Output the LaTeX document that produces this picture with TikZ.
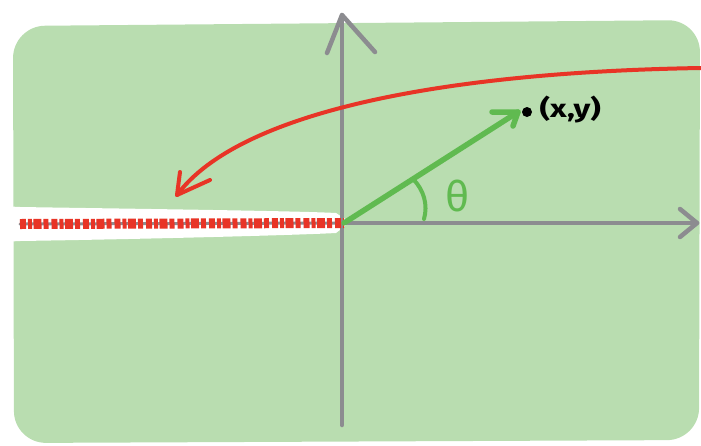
\documentclass[tikz,border=0pt]{standalone}
\usepackage{fontspec}
\setsansfont{Fira Sans}
\begin{document}
\begin{tikzpicture}[x=1pt,y=-1pt,line cap=round,line join=round]
\definecolor{bgreen}{RGB}{185,221,176}
\definecolor{vgreen}{RGB}{96,186,80}
\definecolor{cred}{RGB}{232,52,38}
\definecolor{axgray}{RGB}{140,140,144}
\tikzset{
  axis/.style={draw=axgray,line width=4.5pt},
  vec/.style={draw=vgreen,line width=5.5pt},
  redline/.style={draw=cred,line width=4pt}
}
\useasboundingbox (0,0) rectangle (701,445);
% green plane
\fill[bgreen,rounded corners=32pt] (13,26) -- (700,20) -- (699,440) -- (14,443) -- cycle;
% white branch-cut strip
\fill[white] (0,206) -- (20,207) .. controls (150,209) and (300,211) .. (336,213) -- (350,222) -- (336,233) .. controls (300,235) and (150,239) .. (20,241) -- (0,242) -- cycle;
% named points
\coordinate (O) at (344,223);
\coordinate (xl) at (20,224);
\coordinate (xr) at (697,223);
\coordinate (yt) at (342,15);
\coordinate (yb) at (342,425);
\coordinate (P) at (518,112);
\coordinate (R0) at (701,68);
\coordinate (R1) at (177,195);
% axes
\draw[axis] (yb) -- (yt);
\draw[axis] (327,53) -- (yt) -- (375,52);
\draw[axis,line width=3pt] (xl) -- (O);
\draw[axis] (O) -- (xr);
\draw[axis] (680,209) -- (xr) -- (680,237);
% red scribble on the negative axis
\draw[cred,line width=10pt,line cap=butt,dash pattern=on 6pt off 2pt on 4pt off 1.5pt on 8pt off 2pt on 5pt off 3pt] (xl) -- (O);
% red curve
\draw[redline] (R0) .. controls (450,72) and (240,110) .. (R1);
\draw[redline] (180,172) -- (R1) -- (210,180);
% vector
\draw[vec] (O) -- (P);
\draw[vec] (492,112) -- (P) -- (513,126);
% angle arc
\draw[vec,line width=4pt] (413,179) .. controls (424,190) and (428,205) .. (424,219);
\node[text=vgreen,font=\sffamily\fontsize{42}{42}\selectfont] (theta) at (458,196) {θ};
% point
\fill (527,112) circle (5pt) coordinate (dot);
\node[anchor=west,font=\sffamily\bfseries\fontsize{25}{25}\selectfont] (lbl) at (536,110) {\scalebox{1.3}[1]{(x,y)}};
\end{tikzpicture}
\end{document}
